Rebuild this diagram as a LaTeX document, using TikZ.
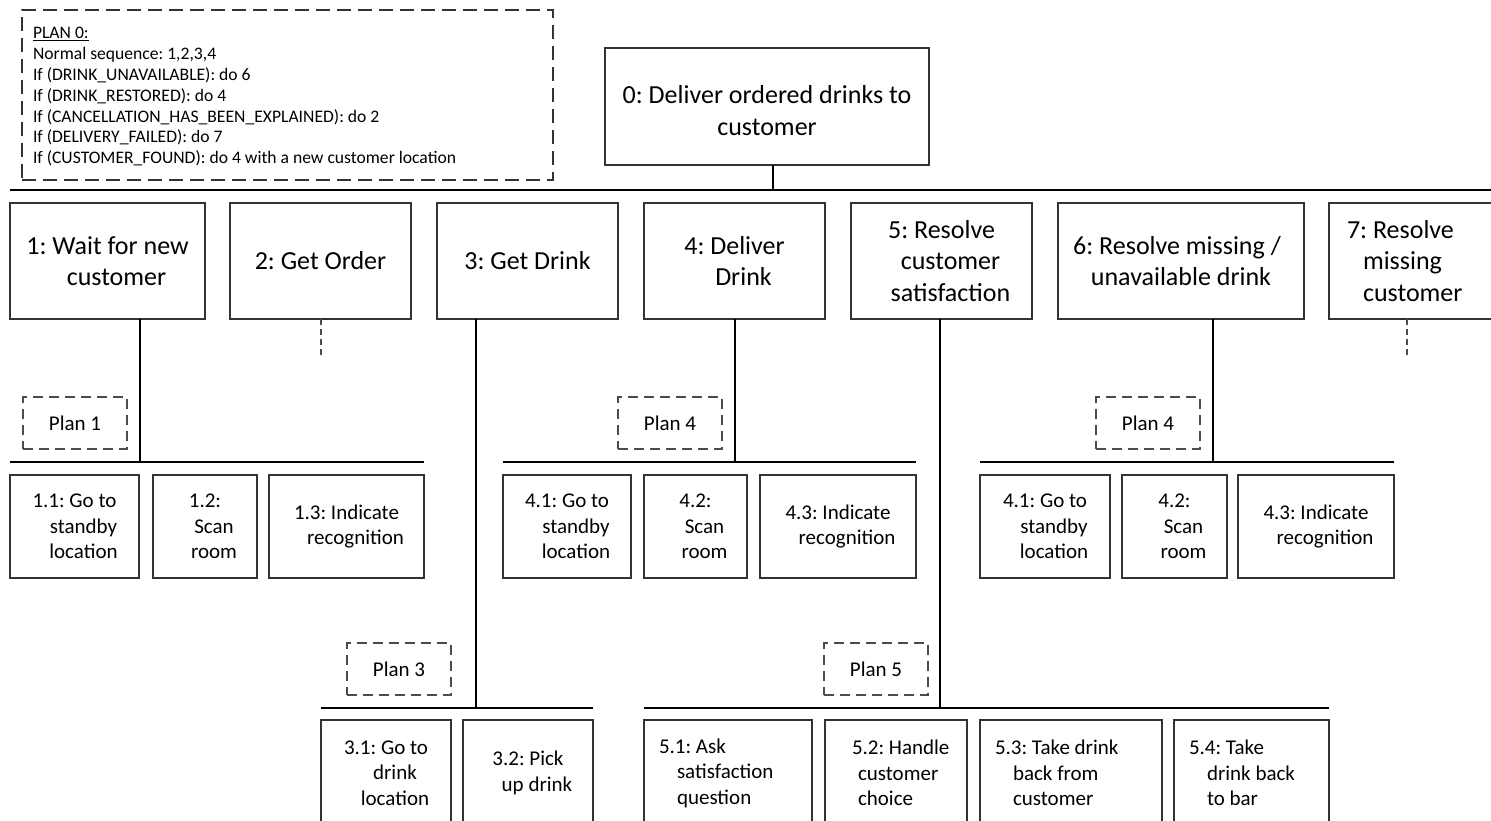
\documentclass[tikz,border=0pt]{standalone}
\usepackage{fontspec}
\setmainfont{Carlito}
\frenchspacing
% continuation line inside a task box: new line, slightly indented
\newcommand\contline{\\\hspace*{18pt}}
\begin{document}
\begin{tikzpicture}[x=1pt,y=-1pt,
  every node/.style={inner sep=0pt, outer sep=0pt},
  task/.style={draw=black!80, line width=1.2pt, anchor=north west},
  bigtask/.style={task, align=center, font=\fontsize{26}{31.5}\selectfont},
  subtask/.style={task, align=center, font=\fontsize{21}{25.5}\selectfont},
  lefttask/.style={task, align=flush left, font=\fontsize{21}{25.5}\selectfont},
  planbox/.style={draw=black!70, line width=1.3pt, dash pattern=on 10pt off 6pt,
    anchor=north west, minimum width=104pt, minimum height=52pt,
    font=\fontsize{21}{25.5}\selectfont},
  bus/.style={line width=2.2pt},
  link/.style={line width=1.8pt},
  stub/.style={draw=black!70, line width=1.2pt, dash pattern=on 6pt off 4pt}
]
\useasboundingbox (0,0) rectangle (1491,821);
\clip (0,0) rectangle (1491,821);

% ---------- plan 0 ----------
\node[draw=black!80, line width=1.4pt, dash pattern=on 14pt off 7pt, anchor=north west,
  minimum width=531pt, minimum height=170pt] (plan0) at (22,10) {};
\node[anchor=north west, align=flush left, font=\fontsize{17.6}{20.9}\selectfont] (plan0txt) at (33,27)
  {\underline{PLAN 0:}\\
   Normal sequence: 1,2,3,4\\
   If (DRINK\_UNAVAILABLE): do 6\\
   If (DRINK\_RESTORED): do 4\\
   If (CANCELLATION\_HAS\_BEEN\_EXPLAINED): do 2\\
   If (DELIVERY\_FAILED): do 7\\
   If (CUSTOMER\_FOUND): do 4 with a new customer location};

% ---------- root task ----------
\node[bigtask, minimum width=324pt, minimum height=117pt, text height=58pt] (t0) at (605,48)
  {0: Deliver ordered drinks to\\customer};

% ---------- level 1 tasks ----------
\node[bigtask, minimum width=195pt, minimum height=116pt] (t1) at (10,203)
  {1: Wait for new\contline customer};
\node[bigtask, minimum width=181pt, minimum height=116pt] (t2) at (230,203)
  {2: Get Order};
\node[bigtask, minimum width=181pt, minimum height=116pt] (t3) at (437,203)
  {3: Get Drink};
\node[bigtask, minimum width=181pt, minimum height=116pt] (t4) at (644,203)
  {4: Deliver\contline Drink};
\node[bigtask, minimum width=181pt, minimum height=116pt] (t5) at (851,203)
  {5: Resolve\contline customer\contline satisfaction};
\node[bigtask, minimum width=246pt, minimum height=116pt] (t6) at (1058,203)
  {\hspace*{-8pt}6: Resolve missing /\\unavailable drink};
\node[task, align=flush left, font=\fontsize{26}{31.5}\selectfont, inner xsep=18pt,
  text width=145pt, minimum height=116pt] (t7) at (1329,203)
  {7: Resolve\\\hspace*{16pt}missing\\\hspace*{16pt}customer};

% ---------- level 2 under task 1 ----------
\node[subtask, minimum width=129pt, minimum height=103pt] (t11) at (10,475)
  {1.1: Go to\contline standby\contline location};
\node[subtask, minimum width=104pt, minimum height=103pt] (t12) at (153,475)
  {1.2:\contline Scan\contline room};
\node[subtask, minimum width=155pt, minimum height=103pt] (t13) at (269,475)
  {1.3: Indicate\contline recognition};

% ---------- level 2 under task 4 ----------
\node[subtask, minimum width=128pt, minimum height=103pt] (t41) at (503,475)
  {4.1: Go to\contline standby\contline location};
\node[subtask, minimum width=103pt, minimum height=103pt] (t42) at (644,475)
  {4.2:\contline Scan\contline room};
\node[subtask, minimum width=156pt, minimum height=103pt] (t43) at (760,475)
  {4.3: Indicate\contline recognition};

% ---------- level 2 under task 6 ----------
\node[subtask, minimum width=130pt, minimum height=103pt] (t61) at (980,475)
  {4.1: Go to\contline standby\contline location};
\node[subtask, minimum width=105pt, minimum height=103pt] (t62) at (1122,475)
  {4.2:\contline Scan\contline room};
\node[subtask, minimum width=156pt, minimum height=103pt] (t63) at (1238,475)
  {4.3: Indicate\contline recognition};

% ---------- level 2 under task 3 ----------
\node[subtask, minimum width=130pt, minimum height=106pt] (t31) at (321,720)
  {3.1: Go to\contline drink\contline location};
\node[subtask, minimum width=130pt, minimum height=106pt] (t32) at (463,720)
  {3.2: Pick\contline up drink};

% ---------- level 2 under task 5 ----------
\node[lefttask, inner xsep=15pt, text width=138pt, minimum height=106pt] (t51) at (644,720)
  {5.1: Ask\contline satisfaction\contline question};
\node[lefttask, inner xsep=15pt, text width=112pt, minimum height=106pt] (t52) at (825,720)
  {\hspace*{12pt}5.2: Handle\contline customer\contline choice};
\node[lefttask, inner xsep=15pt, text width=152pt, minimum height=106pt] (t53) at (980,720)
  {5.3: Take drink\contline back from\contline customer};
\node[lefttask, inner xsep=15pt, text width=125pt, minimum height=106pt] (t54) at (1174,720)
  {5.4: Take\contline drink back\contline to bar};

% ---------- plans ----------
\node[planbox] (p1) at (23,397) {Plan 1};
\node[planbox] (p4) at (618,397) {Plan 4};
\node[planbox] (p6) at (1096,397) {Plan 4};
\node[planbox] (p3) at (347,643) {Plan 3};
\node[planbox] (p5) at (824,643) {Plan 5};

% ---------- buses and junctions ----------
\coordinate (busL) at (10,190);
\coordinate (busR) at (1491,190);
\coordinate (j0) at (773,190);
\coordinate (j1) at (140,462);
\coordinate (j3) at (476,708);
\coordinate (j4) at (735,462);
\coordinate (j5) at (940,708);
\coordinate (j6) at (1213,462);
\coordinate (s2) at (321,358);
\coordinate (s7) at (1407,358);

\draw[bus] (busL) -- (busR);
\draw[bus] (t11.north west |- j1) -- (t13.north east |- j1);
\draw[bus] (t41.north west |- j4) -- (t43.north east |- j4);
\draw[bus] (t61.north west |- j6) -- (t63.north east |- j6);
\draw[bus] (t31.north west |- j3) -- (t32.north east |- j3);
\draw[bus] (t51.north west |- j5) -- (t54.north east |- j5);

\draw[link] (j0 |- t0.south) -- (j0);
\draw[link] (j1 |- t1.south) -- (j1);
\draw[link] (j3 |- t3.south) -- (j3);
\draw[link] (j4 |- t4.south) -- (j4);
\draw[link] (j5 |- t5.south) -- (j5);
\draw[link] (j6 |- t6.south) -- (j6);
\draw[stub] (s2 |- t2.south) -- (s2);
\draw[stub] (s7 |- t7.south) -- (s7);
\end{tikzpicture}
\end{document}
